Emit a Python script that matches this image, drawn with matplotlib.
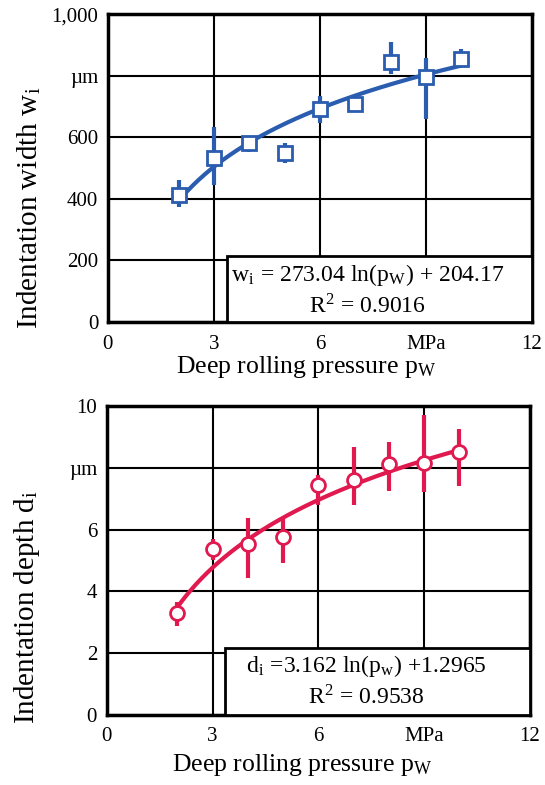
import numpy as np
import matplotlib
matplotlib.use("Agg")
import matplotlib.pyplot as plt
from matplotlib.patches import Rectangle

plt.rcParams['font.family'] = ['Liberation Serif', 'DejaVu Serif']
plt.rcParams['mathtext.fontset'] = 'stix'

# ---- data ----
pressure = [2, 3, 4, 5, 6, 7, 8, 9, 10]

width_mean = [414, 533, 580, 548, 692, 709, 845, 796, 854]
width_err_low = [42, 88, 27, 33, 47, 15, 38, 135, 25]
width_err_high = [47, 101, 22, 32, 42, 15, 66, 60, 33]
width_fit_a, width_fit_b = 273.04, 204.17

depth_mean = [3.31, 5.37, 5.53, 5.77, 7.44, 7.62, 8.13, 8.16, 8.51]
depth_err_low = [0.43, 0.35, 1.11, 0.84, 0.64, 0.82, 0.88, 0.93, 1.09]
depth_err_high = [0.36, 0.33, 0.86, 0.65, 0.33, 1.04, 0.70, 1.55, 0.74]
depth_fit_a, depth_fit_b = 3.162, 1.2965

x_ticks = [0, 3, 6, 9, 12]
x_ticklabels = ['0', '3', '6', 'MPa', '12']
w_ticks = [0, 200, 400, 600, 800, 1000]
w_ticklabels = ['0', '200', '400', '600', 'µm', '1,000']
d_ticks = [0, 2, 4, 6, 8, 10]
d_ticklabels = ['0', '2', '4', '6', 'µm', '10']

BLUE = '#2a5caf'
RED = '#e0194f'

fig = plt.figure(figsize=(5.45, 7.85), dpi=100)
ax1 = fig.add_axes([0.198, 0.5898, 0.778, 0.3922])
ax2 = fig.add_axes([0.196, 0.0892, 0.7765, 0.3936])


def style(ax, yticks, yticklabels, ylim, ylabel, ylab_y, xlab_x, xlab_y):
    ax.set_xlim(0, 12)
    ax.set_ylim(*ylim)
    ax.set_xticks(x_ticks)
    ax.set_xticklabels(x_ticklabels)
    ax.set_yticks(yticks)
    ax.set_yticklabels(yticklabels)
    ax.tick_params(length=0, labelsize=15)
    ax.tick_params(axis='x', pad=9)
    ax.tick_params(axis='y', pad=7)
    ax.grid(True, color='black', linewidth=1.5)
    ax.set_axisbelow(True)
    for s in ax.spines.values():
        s.set_linewidth(2.5)
    ax.set_xlabel(r'Deep rolling pressure p$_\mathregular{W}$', fontsize=18.5)
    ax.set_ylabel(ylabel, fontsize=21)
    ax.yaxis.set_label_coords(-0.152, ylab_y)
    ax.xaxis.set_label_coords(xlab_x, xlab_y)


style(ax1, w_ticks, w_ticklabels, (0, 1000), r'Indentation width w$_\mathregular{i}$', 0.37, 0.467, -0.105)
style(ax2, d_ticks, d_ticklabels, (0, 10), r'Indentation depth d$_\mathregular{i}$', 0.35, 0.461, -0.12)

xs = np.linspace(min(pressure), max(pressure), 200)

# top
ax1.errorbar(pressure, width_mean, yerr=[width_err_low, width_err_high], fmt='none',
             ecolor=BLUE, elinewidth=3, capsize=0, zorder=3)
ax1.plot(xs, width_fit_a * np.log(xs) + width_fit_b, color=BLUE, lw=3, zorder=4)
ax1.plot(pressure, width_mean, 's', ms=10, mfc='white', mec=BLUE, mew=2, zorder=5)
ax1.add_patch(Rectangle((3.36, 0), 12 - 3.36, 215, facecolor='white', edgecolor='black',
                        lw=2, zorder=6, clip_on=False))
ax1.text(7.35, 152, r'w$_\mathregular{i}$ = 273.04 ln(p$_\mathregular{W}$) + 204.17', ha='center', va='center',
         fontsize=17, zorder=7)
ax1.text(7.35, 52, r'R$^\mathregular{2}$ = 0.9016', ha='center', va='center', fontsize=17, zorder=7)

# bottom
ax2.errorbar(pressure, depth_mean, yerr=[depth_err_low, depth_err_high], fmt='none',
             ecolor=RED, elinewidth=3, capsize=0, zorder=3)
ax2.plot(xs, depth_fit_a * np.log(xs) + depth_fit_b, color=RED, lw=3, zorder=4)
ax2.plot(pressure, depth_mean, 'o', ms=10, mfc='white', mec=RED, mew=2, zorder=5)
ax2.add_patch(Rectangle((3.35, 0), 12 - 3.35, 2.16, facecolor='white', edgecolor='black',
                        lw=2, zorder=6, clip_on=False))
ax2.text(7.35, 1.57, r'd$_\mathregular{i}$ =3.162 ln(p$_\mathregular{w}$) +1.2965', ha='center', va='center',
         fontsize=17, zorder=7)
ax2.text(7.35, 0.57, r'R$^\mathregular{2}$ = 0.9538', ha='center', va='center', fontsize=17, zorder=7)

fig.savefig('out.png', dpi=100)
